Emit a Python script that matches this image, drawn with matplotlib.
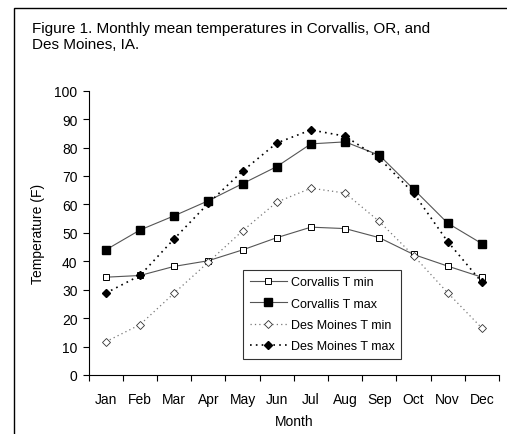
import matplotlib
matplotlib.use("Agg")
import matplotlib.pyplot as plt
from matplotlib.patches import Rectangle

months = ["Jan", "Feb", "Mar", "Apr", "May", "Jun", "Jul", "Aug", "Sep", "Oct", "Nov", "Dec"]
corvallis_tmin = [34.4, 35.0, 38.2, 40.2, 44.0, 48.3, 52.0, 51.5, 48.3, 42.4, 38.3, 34.4]
corvallis_tmax = [44.0, 51.0, 56.0, 61.3, 67.3, 73.3, 81.3, 82.0, 77.3, 65.4, 53.4, 46.2]
desmoines_tmin = [11.7, 17.7, 28.8, 39.7, 50.7, 60.8, 65.7, 64.0, 54.0, 42.0, 28.9, 16.5]
desmoines_tmax = [28.8, 35.0, 47.9, 60.4, 71.7, 81.6, 86.2, 84.0, 76.2, 64.0, 46.9, 32.6]

plt.rcParams['font.family'] = ['Liberation Sans', 'DejaVu Sans']

W, H = 507, 435
fig = plt.figure(figsize=(W / 100, H / 100), dpi=100)

# outer frame (extends past right/bottom edges)
fig.patches.append(Rectangle((14 / W, -0.05), 1.1, 1 - 9 / H + 0.05, transform=fig.transFigure,
                             fill=False, edgecolor='black', linewidth=1.0))

fig.text(32 / W, 1 - 22 / H, "Figure 1. Monthly mean temperatures in Corvallis, OR, and\nDes Moines, IA.",
         ha='left', va='top', fontsize=11, linespacing=1.2)

ax = fig.add_axes([88.7 / W, 1 - 376 / H, (499 - 88.7) / W, (376 - 91.7) / H])
x = list(range(len(months)))

ax.plot(x, corvallis_tmin, color='#555555', linewidth=0.8, marker='s', markersize=3.8,
        markerfacecolor='white', markeredgecolor='black', markeredgewidth=0.7, label='Corvallis T min')
ax.plot(x, corvallis_tmax, color='#555555', linewidth=0.8, marker='s', markersize=5.2,
        markerfacecolor='black', markeredgecolor='black', label='Corvallis T max')
ax.plot(x, desmoines_tmin, color='#777777', linewidth=0.9, linestyle=(0, (1, 2.5)), marker='D',
        markersize=3.6, markerfacecolor='white', markeredgecolor='#333333', markeredgewidth=0.6,
        label='Des Moines T min')
ax.plot(x, desmoines_tmax, color='black', linewidth=1.2, linestyle=(0, (1, 2.5)), marker='D',
        markersize=4.0, markerfacecolor='black', markeredgecolor='black', label='Des Moines T max')

ax.set_xlim(-0.5, 11.5)
ax.set_ylim(0, 100)
ax.set_yticks(range(0, 101, 10))
ax.set_xticks([i - 0.5 for i in range(13)], minor=False)
ax.set_xticklabels([])
ax.set_xticks(x, minor=True)
ax.set_xticklabels(months, minor=True, fontsize=10)
ax.tick_params(axis='x', which='minor', length=0, pad=12)
ax.tick_params(axis='x', which='major', length=4, width=0.8, direction='out')
ax.tick_params(axis='y', length=4, width=0.8, direction='out', labelsize=10, pad=4)
for s in ['top', 'right']:
    ax.spines[s].set_visible(False)
for s in ['left', 'bottom']:
    ax.spines[s].set_linewidth(0.8)

ax.set_ylabel("Temperature (F)", fontsize=10, labelpad=7)
ax.set_xlabel("Month", fontsize=10, labelpad=6)

leg = ax.legend(loc='upper left', bbox_to_anchor=((243.3 - 88.7) / (499 - 88.7), 1 - (271 - 91.7) / (376 - 91.7)),
                frameon=True, fancybox=False, edgecolor='black', handlelength=3.0,
                borderpad=0.5, labelspacing=0.75, handletextpad=0.3, borderaxespad=0,
                prop={'size': 9})
leg.get_frame().set_linewidth(0.8)

fig.savefig("out.png", dpi=100)
